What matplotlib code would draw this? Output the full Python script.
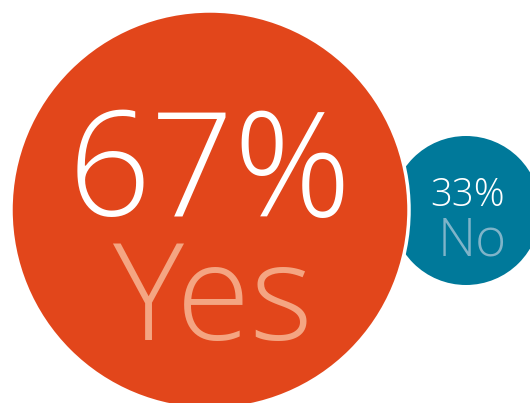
import matplotlib.pyplot as plt
from matplotlib.patches import Circle

# 投票结果
labels = ["Yes", "No"]
values = [67, 33]

colors = ["#E2461B", "#00799A"]
label_colors = ["#F4A582", "#7FB4C9"]

fig = plt.figure(figsize=(5.3, 4.03), dpi=100)
ax = fig.add_axes([0, 0, 1, 1])
ax.set_xlim(0, 530)
ax.set_ylim(403, 0)
ax.set_aspect("equal")
ax.axis("off")

# 圆心、半径(像素坐标)
centers = [(210, 210), (466, 210.5)]
radii = [199, 74.5]
pct_size = [105, 27.5]
lab_size = [97, 38]
pct_base = [216, 206]
lab_base = [340, 255]
lab_dx = [3, 6]

font = "Open Sans"

# 先画小圆, 大圆压在上面并带白边
for i in [1, 0]:
    c = Circle(centers[i], radii[i], facecolor=colors[i],
               edgecolor="white", linewidth=2.5 if i == 0 else 0,
               zorder=2 if i == 0 else 1)
    ax.add_patch(c)

for i in range(2):
    cx = centers[i][0]
    ax.text(cx + 2 * i, pct_base[i], f"{values[i]}%", color="white",
            fontsize=pct_size[i], family=font, fontweight="light",
            ha="center", va="baseline", zorder=3)
    ax.text(cx + lab_dx[i], lab_base[i], labels[i], color=label_colors[i],
            fontsize=lab_size[i], family=font, fontweight="light",
            ha="center", va="baseline", zorder=3)

fig.savefig("out.png", dpi=100)
